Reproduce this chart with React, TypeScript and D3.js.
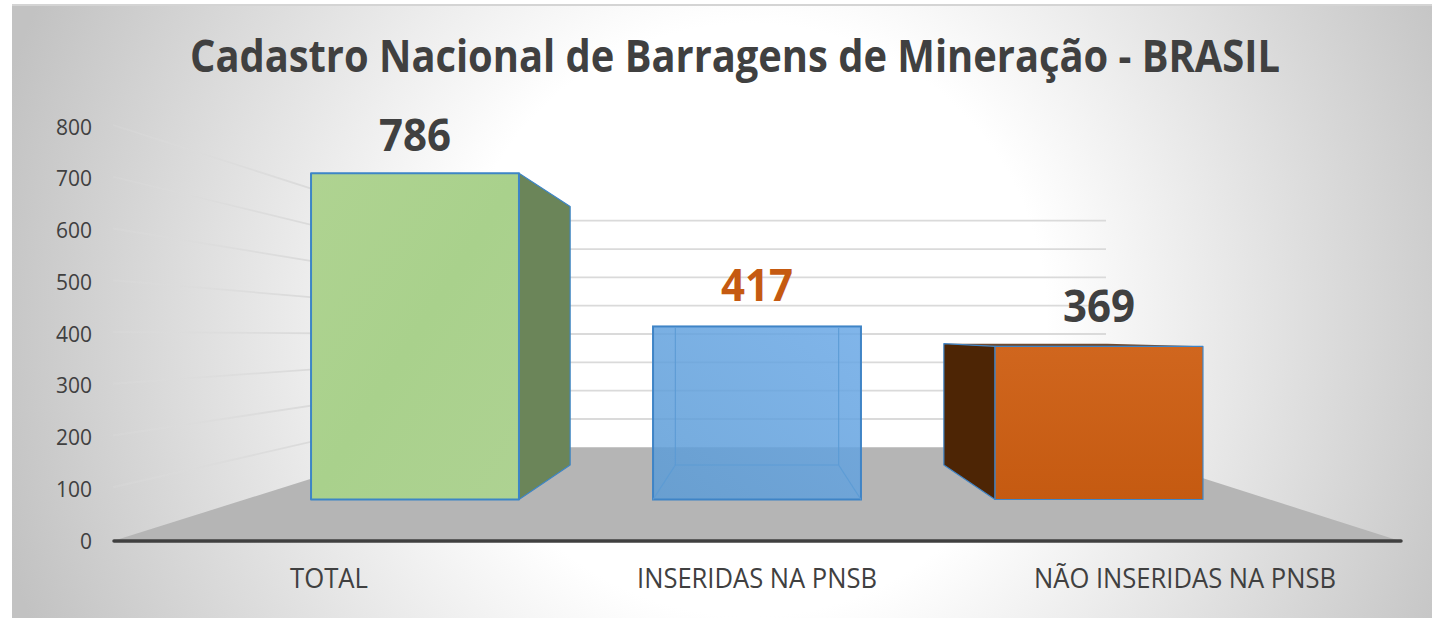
import React from "react";
import * as d3 from "d3";

const title = "Cadastro Nacional de Barragens de Mineração - BRASIL";
const categories = ["TOTAL", "INSERIDAS NA PNSB", "NÃO INSERIDAS NA PNSB"];
const values = [786, 417, 369];
const yTicks = [0, 100, 200, 300, 400, 500, 600, 700, 800];
const backGridTicks = [100, 200, 300, 400, 500, 600, 700, 800];

const W = 1432, H = 618;
const FONT = "'Open Sans', Lato, sans-serif";
const INK = "#404040";
const EDGE = "#3d85c6";

// Axis plane (front of the floor) and back wall
const frontY = d3.scaleLinear().domain([0, 800]).range([541, 127]);
const wallY = d3.scaleLinear().domain([0, 800]).range([447.3, 220.7]);
// Bars: front face and back face
const barFrontY = d3.scaleLinear().domain([0, 800]).range([499.5, 167.5]);
const barBackY = d3.scaleLinear().domain([0, 800]).range([465, 202]);
const barX = d3.scaleBand<string>().domain(categories).range([244, 1270]).paddingInner(0.392).paddingOuter(0.196);
const labelX = d3.scalePoint<string>().domain(categories).range([115, 1399]).padding(0.5);
const depthX = (x: number) => 757 + (x - 757) * 0.785;

const poly = (pts: [number, number][]) => d3.line()(pts) + "Z";

const labelWidths = [78, 240, 302];
const valueGaps = [22, 25, 24];
const valueColors = [INK, "#c55a11", INK];

export default function App() {
  const [x0, x1, x2] = categories.map((c) => barX(c) as number);
  const bw = barX.bandwidth();
  const [v0, v1, v2] = values;

  const wallL = 411, wallR = 1106;

  return (
    <svg width={W} height={H} viewBox={`0 0 ${W} ${H}`} style={{ position: "absolute", left: 0, top: 0, display: "block" }}>
      <defs>
        <radialGradient id="bg" gradientUnits="userSpaceOnUse" cx={750} cy={320} r={780}>
          <stop offset="0.38" stopColor="#ffffff" />
          <stop offset="1" stopColor="#c2c2c2" />
        </radialGradient>
        <linearGradient id="wallFade" gradientUnits="userSpaceOnUse" x1={113} y1={0} x2={311} y2={0}>
          <stop offset="0" stopColor="#dcdcdc" stopOpacity="0.25" />
          <stop offset="1" stopColor="#dadada" stopOpacity="1" />
        </linearGradient>
        <linearGradient id="green" x1="0" y1="0" x2="1" y2="1">
          <stop offset="0" stopColor="#afd391" />
          <stop offset="0.5" stopColor="#a9d18c" />
          <stop offset="1" stopColor="#aed292" />
        </linearGradient>
        <linearGradient id="blue" x1="1" y1="0" x2="0" y2="1">
          <stop offset="0" stopColor="#6aa8e6" stopOpacity="0.85" />
          <stop offset="1" stopColor="#5b9bd5" stopOpacity="0.85" />
        </linearGradient>
        <linearGradient id="orange" x1="0" y1="0" x2="0" y2="1">
          <stop offset="0" stopColor="#d0661e" />
          <stop offset="1" stopColor="#c55a11" />
        </linearGradient>
      </defs>

      <rect x={12} y={5} width={W - 12} height={H - 5} fill="url(#bg)" />
      <rect x={12} y={4} width={W - 12} height={2} fill="#d4d4d4" />

      {/* walls */}
      <g stroke="#dadada" strokeWidth={1.8} fill="none">
        {backGridTicks.map((t) => (
          <line key={"b" + t} x1={wallL} x2={wallR} y1={wallY(t)} y2={wallY(t)} />
        ))}
      </g>
      <g strokeWidth={1.8} fill="none">
        {backGridTicks.map((t) => {
          const a: [number, number] = [113, frontY(t) - 2];
          const b: [number, number] = [wallL, wallY(t)];
          return <path key={"l" + t} d={d3.line()([a, b]) as string} stroke="url(#wallFade)" />;
        })}
      </g>

      {/* floor */}
      <path d={poly([[113, 541], [wallL, wallY(0)], [wallR, wallY(0)], [1400, 541]])} fill="#b5b5b5" />
      <line x1={114} x2={1401} y1={541} y2={541} stroke="#404040" strokeWidth={3.5} strokeLinecap="round" />

      {/* bar 1 */}
      <g stroke={EDGE} strokeWidth={2} strokeLinejoin="round">
        <path d={poly([[x0 + bw, barFrontY(v0)], [depthX(x0 + bw), barBackY(v0)], [depthX(x0 + bw), barBackY(0)], [x0 + bw, barFrontY(0)]])} fill="#6b8559" strokeWidth={1.2} />
        <rect x={x0} y={barFrontY(v0)} width={bw} height={barFrontY(0) - barFrontY(v0)} fill="url(#green)" />
      </g>

      {/* bar 2: translucent box */}
      <g>
        <rect x={x1} y={barFrontY(v1)} width={bw} height={barFrontY(0) - barFrontY(v1)} fill="url(#blue)" stroke="#3f84c6" strokeWidth={2} />
        <g stroke="#5b9bd5" strokeWidth={1.2} fill="none" opacity={0.85}>
          <line x1={depthX(x1)} x2={depthX(x1)} y1={barBackY(v1)} y2={barBackY(0)} />
          <line x1={depthX(x1 + bw)} x2={depthX(x1 + bw)} y1={barBackY(v1)} y2={barBackY(0)} />
          <line x1={depthX(x1)} x2={depthX(x1 + bw)} y1={barBackY(0)} y2={barBackY(0)} />
          <line x1={x1} x2={depthX(x1)} y1={barFrontY(0)} y2={barBackY(0)} />
          <line x1={x1 + bw} x2={depthX(x1 + bw)} y1={barFrontY(0)} y2={barBackY(0)} />
        </g>
      </g>

      {/* bar 3 */}
      <g stroke="#3f84c6" strokeWidth={1.2} strokeLinejoin="round">
        <path d={poly([[depthX(x2), barBackY(v2)], [depthX(x2 + bw), barBackY(v2)], [x2 + bw, barFrontY(v2)], [x2, barFrontY(v2)]])} fill="#6e4a30" stroke="none" />
        <path d={poly([[depthX(x2), barBackY(v2)], [x2, barFrontY(v2)], [x2, barFrontY(0)], [depthX(x2), barBackY(0)]])} fill="#4d2505" />
        <rect x={x2} y={barFrontY(v2)} width={bw} height={barFrontY(0) - barFrontY(v2)} fill="url(#orange)" />
      </g>

      {/* tick labels */}
      <g fontFamily={FONT} fontSize={22} fill={INK} textAnchor="end">
        {yTicks.map((t) => (
          <text key={t} x={92} y={frontY(t) + 7.5} textLength={String(t).length * 12} lengthAdjust="spacingAndGlyphs">{t}</text>
        ))}
      </g>

      {/* category labels */}
      <g fontFamily={FONT} fontSize={26.5} fill={INK} textAnchor="middle">
        {categories.map((c, i) => (
          <text key={c} x={labelX(c)} y={588} textLength={labelWidths[i]} lengthAdjust="spacingAndGlyphs">{c}</text>
        ))}
      </g>

      {/* value labels */}
      <g fontFamily={FONT} fontSize={44} fontWeight={700} textAnchor="middle">
        {values.map((v, i) => (
          <text key={i} x={(barX(categories[i]) as number) + bw / 2} y={barFrontY(v) - valueGaps[i]} fill={valueColors[i]} textLength={72} lengthAdjust="spacingAndGlyphs">{v}</text>
        ))}
      </g>

      <text x={735} y={72} fontFamily={FONT} fontSize={44} fontWeight={700} fill={INK} textAnchor="middle" textLength={1090} lengthAdjust="spacingAndGlyphs">{title}</text>
    </svg>
  );
}
